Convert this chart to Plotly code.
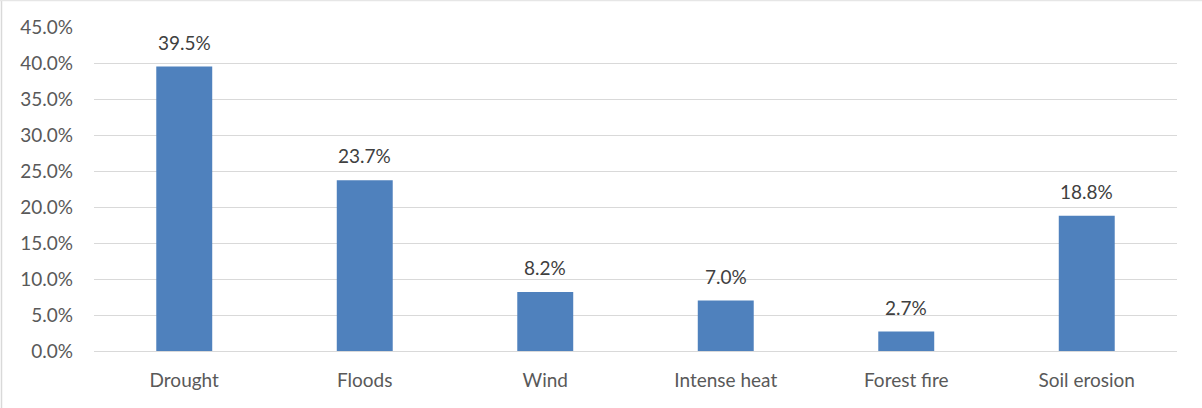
import plotly.graph_objects as go

categories = ["Drought", "Floods", "Wind", "Intense heat", "Forest fire", "Soil erosion"]
shares = [39.5, 23.7, 8.2, 7.0, 2.7, 18.8]
y_ticks = [0, 5, 10, 15, 20, 25, 30, 35, 40, 45]
y_tick_labels = [f"{v:.1f}%" for v in y_ticks]

FONT = "Lato, Calibri, sans-serif"
TEXT_COLOR = "#595959"
BAR_COLOR = "#4F81BD"
FONT_SIZE = 19

fig = go.Figure(
    go.Bar(
        x=categories,
        y=shares,
        marker=dict(color=BAR_COLOR, line=dict(width=0)),
        width=0.31,
        hoverinfo="skip",
    )
)

# value labels above each bar
for cat, val in zip(categories, shares):
    fig.add_annotation(
        x=cat, y=val, text=f"{val:.1f}%", showarrow=False,
        yanchor="bottom", yshift=11,
        font=dict(family=FONT, size=FONT_SIZE, color="#404040"),
    )

# thin frame along the left and top edges of the chart
fig.add_shape(
    type="line", xref="paper", yref="paper",
    x0=-92.5 / 1083, x1=-92.5 / 1083, y0=-57 / 324, y1=1 + 27 / 324,
    line=dict(color="#D9D9D9", width=1.5),
)
fig.add_shape(
    type="line", xref="paper", yref="paper",
    x0=-94 / 1083, x1=1 + 25 / 1083, y0=1 + 26.5 / 324, y1=1 + 26.5 / 324,
    line=dict(color="#E6E6E6", width=1.5),
)

fig.update_layout(
    width=1202, height=408,
    margin=dict(l=94, r=25, t=27, b=57),
    paper_bgcolor="white", plot_bgcolor="white",
    showlegend=False,
    bargap=0.69,
    font=dict(family=FONT, size=FONT_SIZE, color=TEXT_COLOR),
    xaxis=dict(
        showgrid=False, showline=False, ticks="",
        ticklabelstandoff=16,
        tickfont=dict(family=FONT, size=FONT_SIZE, color=TEXT_COLOR),
    ),
    yaxis=dict(
        range=[0, 45], tickvals=y_ticks, ticktext=y_tick_labels,
        showgrid=True, gridcolor="#D9D9D9", gridwidth=1,
        zeroline=True, zerolinecolor="#D9D9D9", zerolinewidth=1,
        showline=False, ticks="", ticklen=0,
        ticklabelstandoff=20,
        tickfont=dict(family=FONT, size=FONT_SIZE, color=TEXT_COLOR),
    ),
)

fig.write_html("out.html")
